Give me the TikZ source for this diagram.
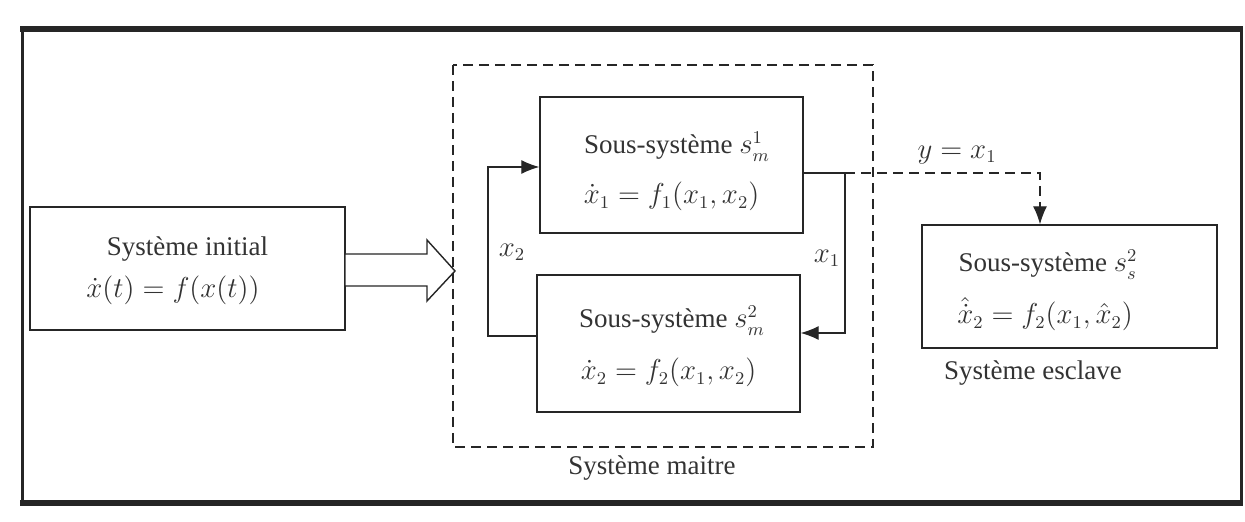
\documentclass[tikz,border=0pt]{standalone}
\usepackage{fontspec}
\setmainfont{Liberation Serif}
\usetikzlibrary{arrows.meta}
\begin{document}
\begin{tikzpicture}[x=0.5pt,y=-0.5pt,
  every node/.style={font=\fontsize{13.5}{16}\selectfont, text=black!80, inner sep=0.5pt},
  blk/.style={draw=black!85, line width=0.7pt, align=center},
  conn/.style={draw=black!85, line width=0.6pt},
  arr/.style={conn, -{Latex[length=9pt,width=7pt]}},
  dsh/.style={draw=black!85, line width=0.6pt, dash pattern=on 5pt off 3pt}]
\useasboundingbox (0,0) rectangle (1245,522);
% outer frame
\draw[black!85, line width=1.5pt] (22,29) -- (22,503) (1241,29) -- (1241,503);
\draw[black!85, line width=3pt] (20,29) -- (1243,29) (20,503) -- (1243,503);
% initial system
\node[blk, minimum width=157.5pt, minimum height=61.5pt] (init) at (187.5,268.5)
  {\rule{0pt}{12pt}Système initial\\[5pt]\hspace*{-14.5pt}$\dot x(t) = f(x(t))$};
% dashed master (grouping frame)
\draw[dsh] (453,65) rectangle (873,447);
\node (maitret) at (652,468) {Système maitre};
% s_m^1
\node[blk, minimum width=131.5pt, minimum height=68pt] (s1) at (671.5,165)
  {\rule{0pt}{17.5pt}\hspace*{5.5pt}Sous-système $s_m^1$\\[9pt]$\dot x_1 = f_1(x_1,x_2)$};
% s_m^2
\node[blk, minimum width=131.5pt, minimum height=68.5pt] (s2) at (668.5,343.5)
  {\rule{0pt}{14pt}\hspace*{3.5pt}Sous-système $s_m^2$\\[10pt]$\dot x_2 = f_2(x_1,x_2)$};
% slave
\node[blk, minimum width=147.5pt, minimum height=61.5pt] (sl) at (1069.5,286.5)
  {\rule{0pt}{15pt}\hspace*{-21.5pt}Sous-système $s_s^2$\\[8pt]\hspace*{-24.5pt}$\hat{\dot x}_2 = f_2(x_1,\hat x_2)$};
\node (slc) at (1033,373) {Système esclave};
% hollow arrow
\draw[blk, fill=white] (345,254) -- (427,254) -- (427,240) -- (455,271) -- (427,301) -- (427,286) -- (345,286) -- cycle;
% feedback
\coordinate (a1) at (488,336);
\coordinate (a2) at (488,167);
\draw[arr] (s2.west |- a1) -- (a1) -- (a2) -- (s1.west |- a2);
\coordinate (b1) at (845,173);
\coordinate (b2) at (845,333);
\draw[arr] (s1.east |- b1) -- (b1) -- (b2) -- (s2.east |- b2);
\node (x2l) at (512,252) {$x_2$};
\node (x1l) at (827,258) {$x_1$};
% y = x1
\coordinate (c1) at (1040,173);
\draw[dsh, -{Latex[length=9pt,width=7pt]}] (b1) -- (c1) -- (sl.north -| c1);
\node (yl) at (957,155) {$y = x_1$};
\end{tikzpicture}
\end{document}
